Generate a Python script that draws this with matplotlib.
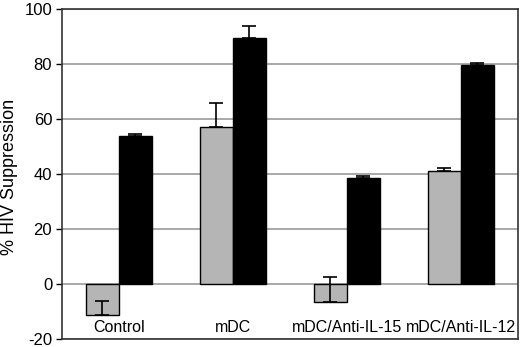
import matplotlib
matplotlib.use('Agg')
import matplotlib.pyplot as plt
import numpy as np

plt.rcParams['font.family'] = ['Liberation Sans', 'DejaVu Sans']

groups = ['Control', 'mDC', 'mDC/Anti-IL-15', 'mDC/Anti-IL-12']
gray_vals = [-11, 57, -6.5, 41]
gray_err = [5, 9, 9.3, 1.3]
black_vals = [54, 89.5, 38.5, 79.5]
black_err = [0.6, 4.3, 1.0, 1.0]
yticks = [-20, 0, 20, 40, 60, 80, 100]

fig = plt.figure(figsize=(5.2, 3.47), dpi=100)
ax = fig.add_axes([0.119, 0.022, 0.877, 0.952])

x = np.arange(len(groups))
w = 0.29
zeros = [0] * len(groups)
ax.bar(x - w / 2, gray_vals, w, color='#b5b5b5', edgecolor='black', linewidth=1, zorder=3)
ax.bar(x + w / 2, black_vals, w, color='black', edgecolor='black', linewidth=1, zorder=3)
ax.errorbar(x - w / 2, gray_vals, yerr=[zeros, gray_err], fmt='none', ecolor='black',
            elinewidth=1.2, capsize=5, capthick=1.2, zorder=4)
ax.errorbar(x + w / 2, black_vals, yerr=[zeros, black_err], fmt='none', ecolor='black',
            elinewidth=1.2, capsize=5, capthick=1.2, zorder=4)

for i, g in enumerate(groups):
    ax.text(i, -15.6, g, ha='center', va='center', fontsize=11.5)

ax.set_xlim(-0.5, 3.5)
ax.set_ylim(-20, 100)
ax.set_yticks(yticks)
ax.set_yticklabels([str(t) for t in yticks], fontsize=12)
ax.set_xticks([])
ax.yaxis.grid(True, color='#999999', linewidth=1.2, zorder=0)
ax.set_axisbelow(True)
ax.tick_params(axis='y', length=4, width=1, pad=3)
for s in ax.spines.values():
    s.set_color('#333333')
    s.set_linewidth(1.2)
fig.text(0.018, 0.49, '% HIV Suppression', rotation=90, ha='center', va='center', fontsize=13)

fig.savefig('out.png', dpi=100)
